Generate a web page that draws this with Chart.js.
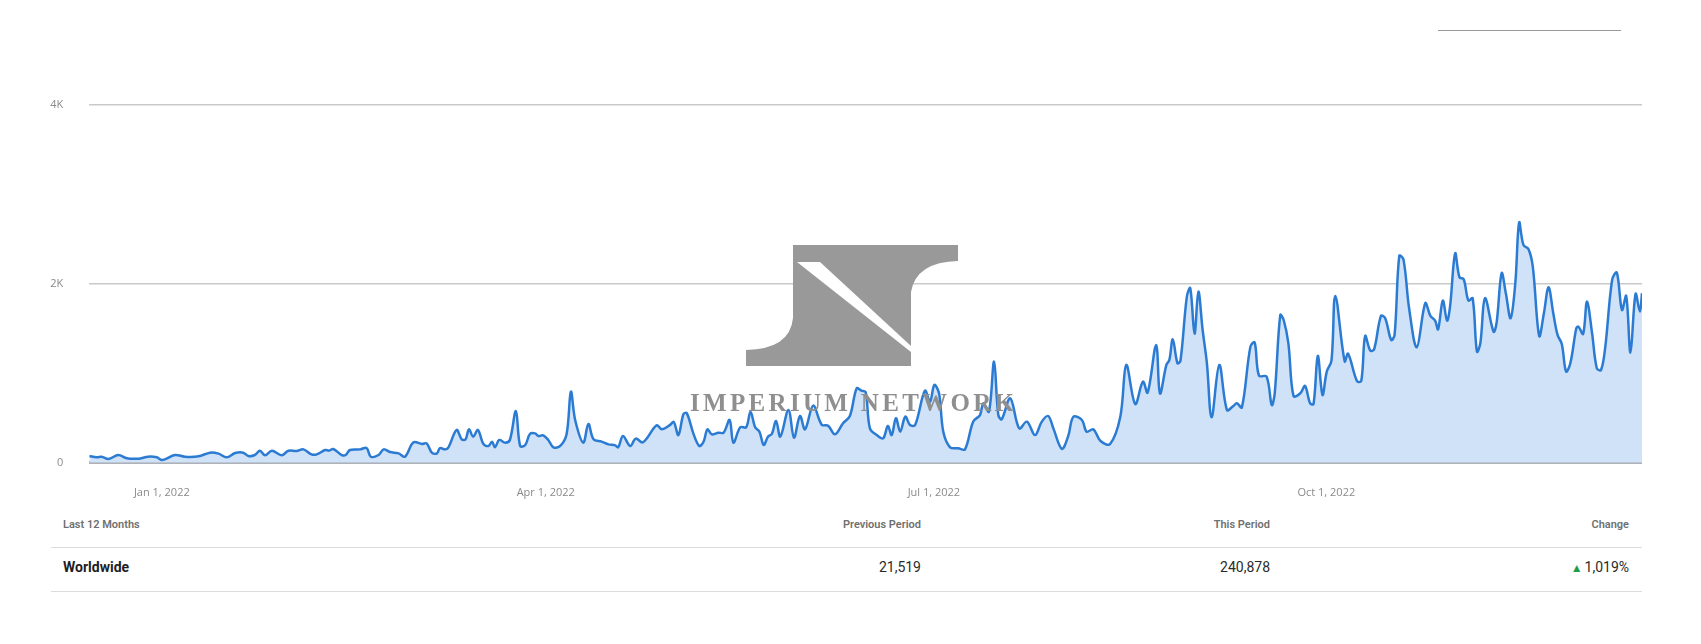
<!DOCTYPE html>
<html>
<head>
<meta charset="utf-8">
<title>Last 12 Months — Worldwide</title>
<script src="https://cdn.jsdelivr.net/npm/chart.js@4.4.1/dist/chart.umd.min.js"></script>
<style>
  html, body { margin: 0; padding: 0; background: #fff; }
  body { width: 1701px; height: 644px; position: relative; overflow: hidden; font-family: Roboto, "Open Sans", Arial, sans-serif; }
  #chart-wrap { position: absolute; left: 0; top: 0; width: 1701px; height: 510px; }
  .top-rule { position: absolute; left: 1438px; top: 30px; width: 183px; height: 0; border-top: 1.5px solid #9a9a9a; }
  .watermark { position: absolute; left: 0; top: 0; pointer-events: none; }
  .cell { position: absolute; white-space: nowrap; line-height: 1; }
  .hd { top: 519px; font-size: 11px; font-weight: 600; color: #707070; }
  .row { top: 560px; font-size: 14px; color: #2a2a2a; }
  .rule { position: absolute; left: 51px; width: 1591px; border-top: 1px solid #dcdcdc; }
  .r { text-align: right; }
  .up { color: #1f9d4c; font-size: 12px; margin-right: 2px; }
</style>
</head>
<body>
<div class="top-rule"></div>
<div id="chart-wrap"><canvas id="trend" width="1701" height="510"></canvas></div>

<!-- watermark over the plot -->
<svg class="watermark" width="1701" height="510">
  <path d="M793 245 L958 245 L958 261 Q916 262 911 292 L911 366 L746 366 L746 350 Q790 349 793 318 Z" fill="#999"/>
  <path d="M797 262 L820 262 L911 346 L911 352 Z" fill="#fff"/>
  <text x="690" y="411" textLength="324" lengthAdjust="spacing" font-family="'Liberation Serif', 'DejaVu Serif', serif" font-weight="bold" font-size="25" fill="#8f8f8f">IMPERIUM NETWORK</text>
</svg>

<div class="cell hd" style="left:63px">Last 12 Months</div>
<div class="cell hd r" style="right:780px">Previous Period</div>
<div class="cell hd r" style="right:431px">This Period</div>
<div class="cell hd r" style="right:72px">Change</div>
<div class="rule" style="top:547px"></div>
<div class="cell row" style="left:63px;font-weight:700;color:#1e1e1e">Worldwide</div>
<div class="cell row r" style="right:780px">21,519</div>
<div class="cell row r" style="right:431px">240,878</div>
<div class="cell row r" style="right:72px"><span class="up">▲</span>1,019%</div>
<div class="rule" style="top:591px"></div>

<script>
/* daily visits, Dec 15 2021 → Dec 14 2022; x = days since Dec 15 2021,
   vertices (peaks, troughs and shoulders) */
const dayOffset = [
  0, 1.7, 2.9, 4.5, 6.8, 8.8, 11.5, 13.8, 15.8, 17.1, 20.1, 22.4, 25.6, 28.3, 30.3, 32.2, 34.2, 36.1, 37.3, 38.8,
  40.0, 41.2, 42.8, 45.1, 46.7, 48.6, 50.2, 52.1, 53.3, 55.3, 56.2, 57.2, 59.2, 60.1, 61.1, 63.5, 65.0, 66.0, 67.8, 69.0,
  70.5, 72.5, 74.0, 76.0, 78.0, 79.1, 80.3, 81.5, 82.2, 83.4, 84.2, 86.1, 87.3, 88.2, 89.0, 90.0, 91.1, 92.4, 93.6, 94.4,
  95.1, 96.1, 97.5, 98.6, 100.0, 101.0, 102.2, 103.3, 104.5, 105.3, 106.4, 107.6, 108.8, 110.4, 111.9, 112.9, 113.9, 115.8, 117.0, 118.2,
  120.1, 121.7, 123.3, 124.0, 125.1, 126.8, 128.1, 129.8, 133.0, 134.2, 136.1, 137.0, 138.1, 139.3, 140.1, 141.6, 143.0, 144.0, 144.9, 145.9,
  147.5, 148.7, 150.1, 151.0, 152.6, 154.0, 155.0, 156.1, 157.1, 158.1, 159.1, 160.0, 161.0, 162.0, 163.9, 165.2, 166.6, 167.8, 169.7, 171.7,
  173.2, 174.8, 176.7, 178.3, 179.9, 181.0, 182.0, 183.0, 184.6, 186.1, 187.2, 188.1, 189.1, 190.1, 191.3, 192.4, 193.6, 195.9, 197.1, 198.1,
  199.2, 200.2, 201.8, 203.7, 205.3, 207.2, 208.8, 209.6, 210.9, 212.1, 213.1, 213.9, 215.9, 218.0, 219.8, 221.7, 223.3, 224.8, 226.0, 228.0,
  229.5, 230.7, 232.7, 233.8, 235.4, 237.0, 239.3, 241.7, 243.1, 245.2, 247.0, 248.1, 250.1, 251.0, 252.5, 253.2, 254.0, 255.1, 255.8, 257.3,
  258.1, 259.1, 260.0, 261.0, 262.0, 263.1, 264.9, 266.7, 268.2, 269.0, 270.2, 272.2, 273.2, 274.2, 276.0, 277.2, 277.9, 279.2, 280.0, 281.1,
  282.3, 283.9, 285.0, 286.2, 287.0, 288.0, 289.1, 290.1, 291.2, 292.1, 294.3, 295.1, 297.2, 298.2, 299.1, 300.3, 301.2, 302.8, 303.8, 305.2,
  306.0, 307.1, 308.1, 309.4, 311.2, 313.2, 314.4, 315.5, 316.2, 317.3, 318.3, 319.0, 320.2, 321.2, 322.2, 323.3, 324.3, 325.3, 326.1, 327.2,
  329.2, 329.9, 331.1, 332.1, 333.2, 334.3, 335.2, 336.2, 337.4, 338.4, 339.9, 341.0, 342.1, 343.2, 344.2, 345.2, 346.2, 347.2, 348.6, 349.1,
  350.2, 351.1, 352.3, 353.4, 354.4, 355.4, 357.0, 358.1, 359.3, 360.3, 361.3, 362.5, 363.5, 364.0,
];
const visits = [
  75, 60, 67, 41, 86, 49, 45, 67, 60, 30, 86, 67, 71, 112, 101, 60, 108, 112, 75, 86,
  134, 82, 134, 84, 134, 131, 149, 93, 93, 142, 135, 153, 86, 86, 142, 149, 164, 67, 86, 149,
  119, 104, 67, 228, 209, 216, 112, 104, 164, 149, 172, 366, 261, 261, 373, 291, 366, 209, 187, 235,
  172, 254, 224, 254, 578, 187, 198, 321, 328, 298, 306, 254, 172, 187, 321, 794, 478, 224, 433, 261,
  235, 205, 194, 172, 298, 187, 269, 228, 418, 373, 420, 455, 309, 545, 552, 328, 187, 235, 373, 317,
  336, 336, 478, 224, 396, 396, 571, 396, 347, 198, 291, 321, 467, 291, 589, 280, 522, 373, 638, 425,
  414, 317, 441, 522, 832, 806, 790, 384, 309, 272, 410, 309, 497, 347, 515, 421, 421, 806, 683, 869,
  776, 347, 172, 161, 150, 459, 533, 664, 571, 1130, 533, 485, 720, 384, 459, 309, 459, 522, 384, 155,
  300, 514, 477, 347, 373, 246, 209, 514, 1093, 656, 906, 783, 1316, 775, 1093, 1150, 1380, 1112, 1140, 1858,
  1951, 1443, 1914, 1484, 1112, 507, 1093, 589, 634, 664, 619, 1298, 1345, 975, 962, 645, 776, 1652, 1596, 1335,
  746, 776, 858, 664, 656, 1194, 757, 1019, 1142, 1865, 1134, 1220, 910, 917, 1417, 1253, 1268, 1641, 1615, 1372,
  1429, 2313, 2268, 1727, 1290, 1783, 1641, 1589, 1492, 1813, 1589, 1746, 2340, 2074, 2052, 1813, 1839, 1242, 1335, 1839,
  1466, 1559, 2119, 1888, 1615, 2007, 2686, 2436, 2387, 2193, 1417, 1671, 1962, 1671, 1429, 1328, 1019, 1112, 1503, 1522,
  1440, 1802, 1447, 1056, 1037, 1298, 2044, 2126, 1708, 1865, 1231, 1888, 1690, 1895,
];
const tickDays = [17, 107, 198, 290];
const tickLabels = ["Jan 1, 2022", "Apr 1, 2022", "Jul 1, 2022", "Oct 1, 2022"];
const yTicks = [0, 2000, 4000];
const yTickLabels = ["0", "2K", "4K"];

/* ── chart ──────────────────────────────────────────────────────────────── */
const points = dayOffset.map((d, i) => ({ x: d, y: visits[i] }));
const tickFont = { family: "'Open Sans', Arial, sans-serif", size: 11 };

new Chart(document.getElementById("trend"), {
  type: "line",
  data: {
    datasets: [{
      data: points,
      borderColor: "#2b7bd3",
      borderWidth: 2.5,
      backgroundColor: "#cfe2f8",
      fill: "origin",
      pointRadius: 0,
      tension: 0.35,
    }],
  },
  options: {
    responsive: false,
    animation: false,
    devicePixelRatio: 1,
    layout: { padding: { left: 0, right: 59, top: 105, bottom: 0 } },
    plugins: { legend: { display: false }, tooltip: { enabled: false } },
    scales: {
      x: {
        type: "linear",
        min: 0,
        max: 364,
        grid: { display: false },
        border: { display: false },
        afterBuildTicks: (s) => { s.ticks = tickDays.map((v) => ({ value: v })); },
        afterFit: (s) => { s.height = 47.3; },
        ticks: {
          autoSkip: false,
          maxRotation: 0,
          padding: 16,
          color: "#8a8a8a",
          font: tickFont,
          callback: (v, i) => tickLabels[i],
        },
      },
      y: {
        min: 0,
        max: 4000,
        border: { display: false },
        afterBuildTicks: (s) => { s.ticks = yTicks.map((v) => ({ value: v })); },
        afterFit: (s) => { s.width = 89.3; },
        grid: {
          drawTicks: false,
          color: (c) => (c.tick && c.tick.value === 0 ? "#adb1b8" : "#c9c9c9"),
          lineWidth: (c) => (c.tick && c.tick.value === 0 ? 3 : 1.5),
        },
        ticks: {
          padding: 26,
          color: "#8a8a8a",
          font: tickFont,
          callback: (v, i) => yTickLabels[i],
        },
      },
    },
  },
});
</script>
</body>
</html>
